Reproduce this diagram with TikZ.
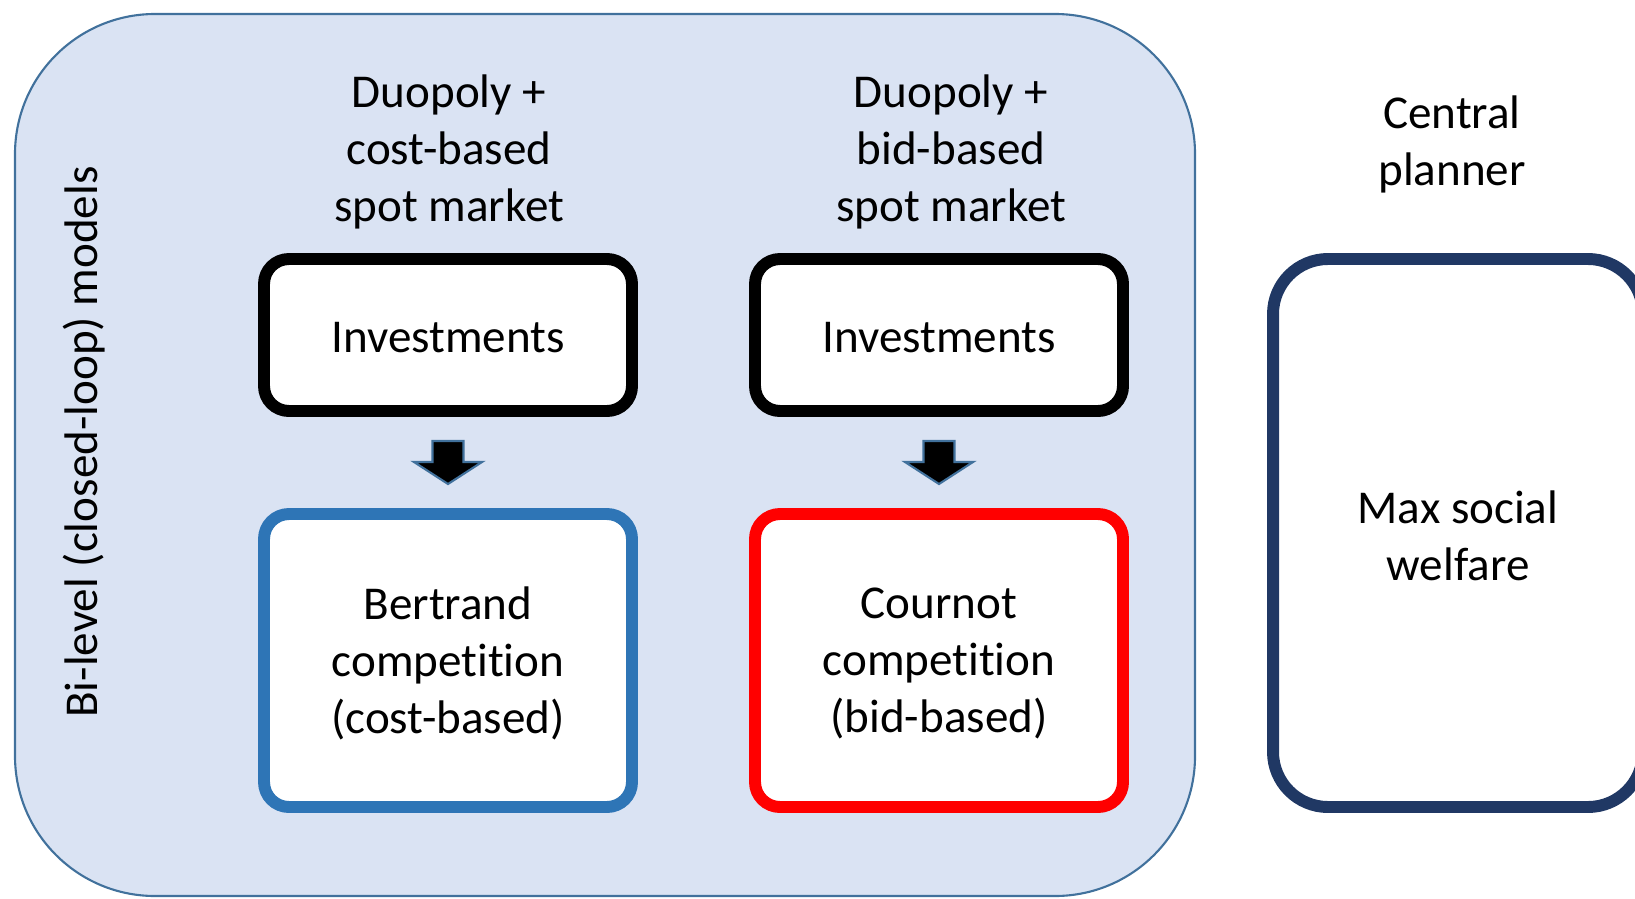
\documentclass[tikz,border=0pt]{standalone}
\usepackage{fontspec}
\setmainfont{Carlito}[Ligatures=NoCommon]
\usepackage{tikz}
\usetikzlibrary{calc,positioning}
\definecolor{PanelFill}{RGB}{218,227,243}
\definecolor{PanelLine}{RGB}{65,113,156}
\definecolor{BertBlue}{RGB}{46,117,182}
\definecolor{CourRed}{RGB}{255,0,0}
\definecolor{PlanNavy}{RGB}{32,56,100}

\begin{document}
\begin{tikzpicture}[x=1.0cm,y=1.0cm,
    every node/.style={font=\fontsize{13.4}{16.2}\selectfont,align=center},
    panel/.style={draw=PanelLine,line width=0.6pt,fill=PanelFill,rounded corners=1.4cm},
    stage/.style={draw,line width=3.4pt,fill=white,rounded corners=0.25cm,
      minimum width=3.68cm,inner sep=0pt},
    blockarr/.style={draw=PanelLine,line width=0.6pt,fill=black}]
      \useasboundingbox (0,0) rectangle (16.35,-8.98);
      \node[panel,minimum width=11.8cm,minimum height=8.82cm] (bilevel) at (6.05,-4.55) {};
      \node[rotate=90] (bilabel) at (0.84,-4.42) {Bi-level (closed-loop) models};
      \node (duo1) at (4.49,-1.52) {Duopoly +\\cost-based\\spot market};
      \node (duo2) at (9.51,-1.52) {Duopoly +\\bid-based\\spot market};
      \node (central) at (14.52,-1.445) {Central\\planner};
      % stage boxes
      \node[stage,minimum height=1.52cm] (inv1) at (4.48,-3.35) {};
      \node[stage,minimum height=1.52cm] (inv2) at (9.39,-3.35) {};
      \node[stage,draw=BertBlue,minimum height=2.93cm] (bert) at (4.48,-6.605) {};
      \node[stage,draw=CourRed,minimum height=2.93cm] (cour) at (9.39,-6.605) {};
      \node[stage,draw=PlanNavy,rounded corners=0.55cm,minimum width=3.7cm,
        minimum height=5.48cm] (maxsw) at (14.58,-5.33) {};
      \node (inv1t) at ([yshift=-0.03cm]inv1.center) {Investments};
      \node (inv2t) at ([yshift=-0.03cm]inv2.center) {Investments};
      \node (bertt) at ([yshift=-0.03cm]bert.center) {Bertrand\\competition\\(cost-based)};
      \node (court) at ([yshift=-0.03cm]cour.center) {Cournot\\competition\\(bid-based)};
      \node (maxswt) at ([yshift=-0.03cm]maxsw.center) {Max social\\welfare};
      % block arrows between the two stages
      \draw[blockarr] ($(inv1.south)!.5!(bert.north)$) ++(-0.155,0.215) -- ++(0.31,0)
        -- ++(0,-0.21) -- ++(0.185,0) -- ++(-0.34,-0.22) -- ++(-0.34,0.22)
        -- ++(0.185,0) -- cycle;
      \draw[blockarr] ($(inv2.south)!.5!(cour.north)$) ++(-0.155,0.215) -- ++(0.31,0)
        -- ++(0,-0.21) -- ++(0.185,0) -- ++(-0.34,-0.22) -- ++(-0.34,0.22)
        -- ++(0.185,0) -- cycle;
    \end{tikzpicture}
\end{document}
